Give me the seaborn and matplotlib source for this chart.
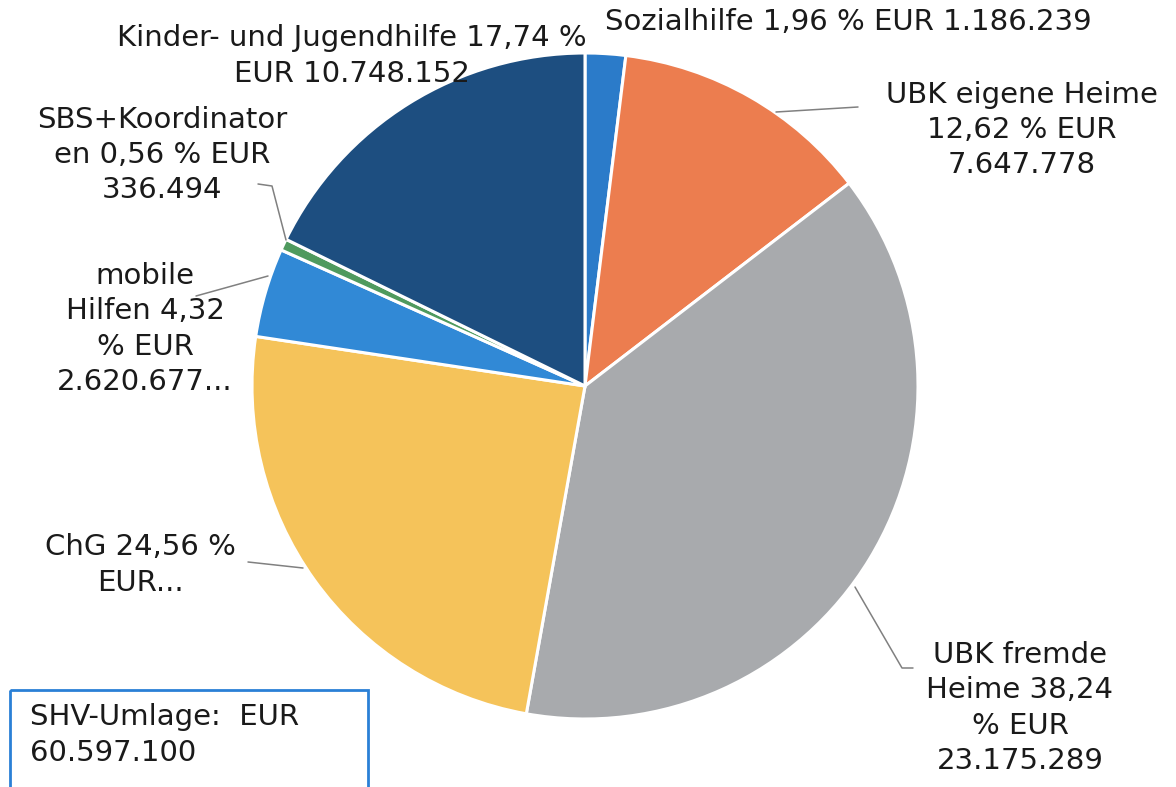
import matplotlib
matplotlib.use("Agg")
import matplotlib.pyplot as plt
import seaborn as sns
from matplotlib.patches import Rectangle

sns.set_theme(style="white")
plt.rcParams['font.family'] = ['DejaVu Sans']

categories = ["Sozialhilfe", "UBK eigene Heime", "UBK fremde Heime", "ChG",
              "mobile Hilfen", "SBS+Koordinatoren", "Kinder- und Jugendhilfe"]
shares = [1.96, 12.62, 38.24, 24.56, 4.32, 0.56, 17.74]
labels = [
    "Sozialhilfe 1,96 % EUR 1.186.239",
    "UBK eigene Heime\n12,62 % EUR\n7.647.778",
    "UBK fremde\nHeime 38,24\n% EUR\n23.175.289",
    "ChG 24,56 %\nEUR...",
    "mobile\nHilfen 4,32\n% EUR\n2.620.677...",
    "SBS+Koordinator\nen 0,56 % EUR\n336.494",
    "Kinder- und Jugendhilfe 17,74 %\nEUR 10.748.152",
]
colors = ["#2B7BC9", "#EC7D4F", "#A8AAAD", "#F5C35A", "#3189D6", "#4F9A5E", "#1D4E80"]
total_text = "SHV-Umlage:  EUR\n60.597.100"

fig = plt.figure(figsize=(11.76, 7.87), dpi=100)
ax = fig.add_axes([0, 0, 1, 1])

ax.pie(shares, colors=colors, startangle=-90, counterclock=True,
       center=(585, 386), radius=333,
       wedgeprops=dict(edgecolor="white", linewidth=2.2), frame=True)
ax.set_xlim(0, 1176)
ax.set_ylim(787, 0)
ax.set_aspect('equal')
ax.axis('off')

fs = 21
label_pos = [(848, 22, 'center'), (1022, 130, 'center'), (1020, 708, 'center'),
             (140, 565, 'center'), (145, 329, 'center'), (162, 155, 'center'),
             (352, 56, 'center')]
for lab, (x, y, ha) in zip(labels, label_pos):
    ax.text(x, y, lab, ha=ha, va='center', fontsize=fs, color="#1a1a1a",
            linespacing=1.32, zorder=5)

lc = "#808080"
leaders = [
    [(776, 112), (858, 107)],
    [(855, 587), (902, 668), (913, 668)],
    [(248, 562), (303, 568)],
    [(196, 296), (268, 276)],
    [(258, 184), (272, 186), (286, 240)],
]
for pts in leaders:
    xs, ys = zip(*pts)
    ax.plot(xs, ys, color=lc, lw=1.1, zorder=4)

ax.add_patch(Rectangle((10, 690), 358, 110, fill=False, edgecolor="#2A80D6",
                       lw=2, zorder=5, clip_on=False))
ax.text(30, 735, total_text, ha='left', va='center', fontsize=fs,
        color="#1a1a1a", linespacing=1.32, zorder=6)

fig.savefig("out.png", dpi=100, facecolor="white")
